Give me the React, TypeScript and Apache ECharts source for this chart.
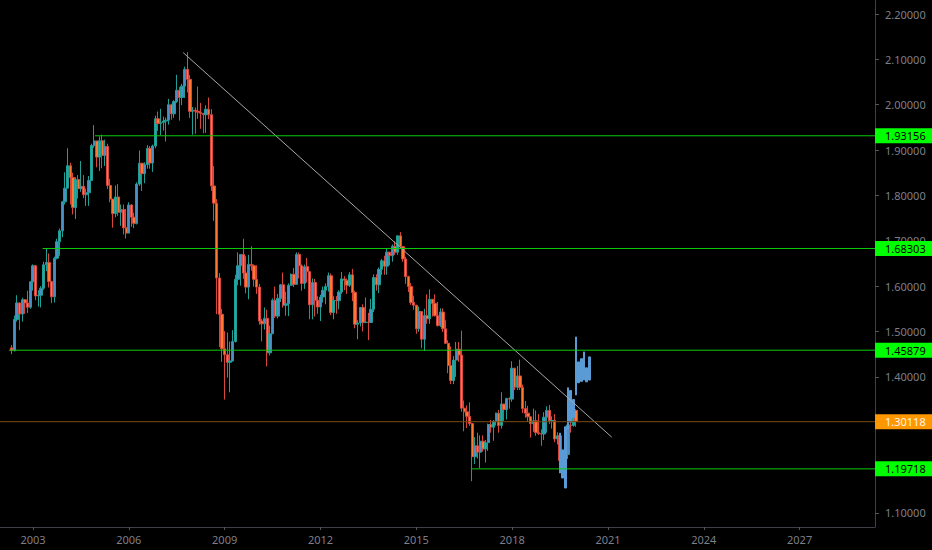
import React, { useEffect, useRef } from "react";
import * as echarts from "echarts";

// GBP/USD monthly candles: [open, close, low, high], starting May 2002
const candleStartYear = 2002;
const candleStartMonth = 4; // 0-based (May)
const candles: number[][] = [
  // 2002 (May-Dec)
  [1.4640, 1.4580, 1.4500, 1.4700], [1.4580, 1.5265, 1.4560, 1.5350], [1.5265, 1.5630, 1.5220, 1.5800],
  [1.5630, 1.5385, 1.5030, 1.5640], [1.5385, 1.5700, 1.5220, 1.5745], [1.5700, 1.5630, 1.5390, 1.5710],
  [1.5630, 1.5535, 1.5410, 1.5900], [1.5535, 1.6095, 1.5500, 1.6110],
  // 2003
  [1.6095, 1.6450, 1.5900, 1.6480], [1.6450, 1.5785, 1.5690, 1.6470], [1.5785, 1.5800, 1.5550, 1.5910],
  [1.5800, 1.5955, 1.5530, 1.6000], [1.5955, 1.6470, 1.5920, 1.6540], [1.6470, 1.6520, 1.6330, 1.6840],
  [1.6520, 1.6100, 1.5970, 1.6720], [1.6100, 1.5765, 1.5625, 1.6120], [1.5765, 1.6615, 1.5640, 1.6650],
  [1.6615, 1.6980, 1.6590, 1.7045], [1.6980, 1.7220, 1.6670, 1.7270], [1.7220, 1.7860, 1.7080, 1.7880],
  // 2004
  [1.7860, 1.8160, 1.7800, 1.8510], [1.8160, 1.8655, 1.8160, 1.9040], [1.8655, 1.8395, 1.7800, 1.8720],
  [1.8395, 1.7735, 1.7580, 1.8500], [1.7735, 1.8350, 1.7480, 1.8400], [1.8350, 1.8150, 1.7930, 1.8450],
  [1.8150, 1.8200, 1.8080, 1.8760], [1.8200, 1.8015, 1.7940, 1.8450], [1.8015, 1.8060, 1.7770, 1.8150],
  [1.8060, 1.8330, 1.7770, 1.8430], [1.8330, 1.9100, 1.8330, 1.9140], [1.9100, 1.9200, 1.9050, 1.9550],
  // 2005
  [1.9200, 1.8845, 1.8620, 1.9200], [1.8845, 1.9205, 1.8540, 1.9300], [1.9205, 1.8885, 1.8600, 1.9340],
  [1.8885, 1.9080, 1.8650, 1.9230], [1.9080, 1.8220, 1.8140, 1.9140], [1.8220, 1.7920, 1.7850, 1.8370],
  [1.7920, 1.7600, 1.7290, 1.7920], [1.7600, 1.7965, 1.7520, 1.8220], [1.7965, 1.7630, 1.7550, 1.8250],
  [1.7630, 1.7690, 1.7330, 1.7800], [1.7690, 1.7285, 1.7140, 1.7800], [1.7285, 1.7170, 1.7050, 1.7700],
  // 2006
  [1.7170, 1.7790, 1.7170, 1.7850], [1.7790, 1.7520, 1.7310, 1.7810], [1.7520, 1.7385, 1.7280, 1.7620],
  [1.7385, 1.8250, 1.7360, 1.8290], [1.8250, 1.8710, 1.8210, 1.8990], [1.8710, 1.8480, 1.8100, 1.8710],
  [1.8480, 1.8680, 1.8270, 1.8730], [1.8680, 1.9040, 1.8590, 1.9110], [1.9040, 1.8715, 1.8590, 1.9090],
  [1.8715, 1.9090, 1.8520, 1.9120], [1.9090, 1.9690, 1.9040, 1.9760], [1.9690, 1.9585, 1.9420, 1.9850],
  // 2007
  [1.9585, 1.9610, 1.9330, 1.9910], [1.9610, 1.9640, 1.9430, 1.9740], [1.9640, 1.9660, 1.9190, 1.9720],
  [1.9660, 2.0000, 1.9560, 2.0130], [2.0000, 1.9800, 1.9670, 2.0020], [1.9800, 2.0070, 1.9710, 2.0100],
  [2.0070, 2.0320, 2.0040, 2.0660], [2.0320, 2.0160, 1.9650, 2.0390], [2.0160, 2.0410, 1.9990, 2.0460],
  [2.0410, 2.0780, 2.0150, 2.0840], [2.0780, 2.0560, 2.0270, 2.1160], [2.0560, 1.9855, 1.9710, 2.0660],
  // 2008
  [1.9855, 1.9880, 1.9340, 1.9950], [1.9880, 1.9855, 1.9360, 1.9940], [1.9855, 1.9835, 1.9690, 2.0400],
  [1.9835, 1.9810, 1.9470, 2.0040], [1.9810, 1.9780, 1.9370, 1.9820], [1.9780, 1.9900, 1.9380, 1.9990],
  [1.9900, 1.9780, 1.9680, 2.0160], [1.9780, 1.8210, 1.8100, 1.9900], [1.8210, 1.7830, 1.7440, 1.8650],
  [1.7830, 1.6180, 1.5380, 1.7920], [1.6180, 1.5380, 1.4660, 1.6290], [1.5380, 1.4620, 1.4330, 1.5500],
  // 2009
  [1.4620, 1.4490, 1.3500, 1.5010], [1.4490, 1.4320, 1.3985, 1.4980], [1.4320, 1.4350, 1.3660, 1.4780],
  [1.4350, 1.4780, 1.4340, 1.5030], [1.4780, 1.6150, 1.4760, 1.6250], [1.6150, 1.6450, 1.6020, 1.6745],
  [1.6450, 1.6700, 1.6010, 1.6700], [1.6700, 1.6290, 1.6160, 1.7045], [1.6290, 1.5980, 1.5840, 1.6660],
  [1.5980, 1.6480, 1.5710, 1.6690], [1.6480, 1.6450, 1.6340, 1.6880], [1.6450, 1.6150, 1.5990, 1.6480],
  // 2010
  [1.6150, 1.5980, 1.5830, 1.6460], [1.5980, 1.5230, 1.5150, 1.6050], [1.5230, 1.5170, 1.4780, 1.5280],
  [1.5170, 1.5290, 1.5040, 1.5530], [1.5290, 1.4530, 1.4230, 1.5480], [1.4530, 1.4950, 1.4470, 1.5130],
  [1.4950, 1.5690, 1.4950, 1.5730], [1.5690, 1.5340, 1.5300, 1.5990], [1.5340, 1.5730, 1.5290, 1.5830],
  [1.5730, 1.6030, 1.5650, 1.6050], [1.6030, 1.5580, 1.5530, 1.6300], [1.5580, 1.5610, 1.5350, 1.5880],
  // 2011
  [1.5610, 1.6020, 1.5340, 1.6060], [1.6020, 1.6260, 1.6010, 1.6280], [1.6260, 1.6040, 1.5980, 1.6400],
  [1.6040, 1.6700, 1.6030, 1.6745], [1.6700, 1.6450, 1.6170, 1.6740], [1.6450, 1.6060, 1.5900, 1.6480],
  [1.6060, 1.6430, 1.5940, 1.6475], [1.6430, 1.6320, 1.6080, 1.6620], [1.6320, 1.5590, 1.5270, 1.6330],
  [1.5590, 1.6080, 1.5270, 1.6170], [1.6080, 1.5690, 1.5330, 1.6160], [1.5690, 1.5540, 1.5390, 1.5780],
  // 2012
  [1.5540, 1.5760, 1.5230, 1.5810], [1.5760, 1.5910, 1.5640, 1.5990], [1.5910, 1.5990, 1.5600, 1.6060],
  [1.5990, 1.6230, 1.5880, 1.6300], [1.6230, 1.5420, 1.5360, 1.6280], [1.5420, 1.5690, 1.5270, 1.5780],
  [1.5690, 1.5680, 1.5390, 1.5780], [1.5680, 1.5870, 1.5490, 1.5910], [1.5870, 1.6160, 1.5830, 1.6310],
  [1.6160, 1.6130, 1.5910, 1.6220], [1.6130, 1.6020, 1.5830, 1.6170], [1.6020, 1.6250, 1.5980, 1.6310],
  // 2013
  [1.6250, 1.5860, 1.5670, 1.6380], [1.5860, 1.5160, 1.5070, 1.5900], [1.5160, 1.5190, 1.4830, 1.5250],
  [1.5190, 1.5530, 1.5110, 1.5540], [1.5530, 1.5200, 1.5000, 1.5600], [1.5200, 1.5210, 1.5185, 1.5750],
  [1.5210, 1.5200, 1.4810, 1.5410], [1.5200, 1.5490, 1.5190, 1.5720], [1.5490, 1.6190, 1.5430, 1.6260],
  [1.6190, 1.6030, 1.5900, 1.6260], [1.6030, 1.6370, 1.5850, 1.6410], [1.6370, 1.6560, 1.6250, 1.6600],
  // 2014
  [1.6560, 1.6440, 1.6250, 1.6670], [1.6440, 1.6750, 1.6250, 1.6820], [1.6750, 1.6670, 1.6460, 1.6750],
  [1.6670, 1.6880, 1.6540, 1.6920], [1.6880, 1.6750, 1.6690, 1.6990], [1.6750, 1.7110, 1.6690, 1.7110],
  [1.7110, 1.6870, 1.6850, 1.7190], [1.6870, 1.6600, 1.6540, 1.6880], [1.6600, 1.6210, 1.6050, 1.6650],
  [1.6210, 1.5990, 1.5870, 1.6230], [1.5990, 1.5640, 1.5590, 1.6070], [1.5640, 1.5580, 1.5480, 1.5790],
  // 2015
  [1.5580, 1.5060, 1.4950, 1.5590], [1.5060, 1.5440, 1.4990, 1.5550], [1.5440, 1.4830, 1.4630, 1.5440],
  [1.4830, 1.5350, 1.4570, 1.5500], [1.5350, 1.5280, 1.5170, 1.5820], [1.5280, 1.5710, 1.5170, 1.5930],
  [1.5710, 1.5620, 1.5330, 1.5710], [1.5620, 1.5350, 1.5330, 1.5820], [1.5350, 1.5130, 1.5110, 1.5650],
  [1.5130, 1.5430, 1.5100, 1.5510], [1.5430, 1.5060, 1.4990, 1.5510], [1.5060, 1.4740, 1.4730, 1.5250],
  // 2016
  [1.4740, 1.4250, 1.4080, 1.4810], [1.4250, 1.3920, 1.3840, 1.4670], [1.3920, 1.4370, 1.3840, 1.4460],
  [1.4370, 1.4610, 1.4000, 1.4770], [1.4610, 1.4480, 1.4330, 1.4770], [1.4480, 1.3310, 1.3230, 1.5020],
  [1.3310, 1.3230, 1.2800, 1.3480], [1.3230, 1.3130, 1.2870, 1.3370], [1.3130, 1.2970, 1.2920, 1.3440],
  [1.2970, 1.2240, 1.1700, 1.2990], [1.2240, 1.2480, 1.2080, 1.2670], [1.2480, 1.2340, 1.2200, 1.2770],
  // 2017
  [1.2340, 1.2580, 1.1990, 1.2710], [1.2580, 1.2410, 1.2350, 1.2710], [1.2410, 1.2550, 1.2110, 1.2610],
  [1.2550, 1.2950, 1.2370, 1.2970], [1.2950, 1.2890, 1.2770, 1.3050], [1.2890, 1.3020, 1.2590, 1.3050],
  [1.3020, 1.3200, 1.2930, 1.3210], [1.3200, 1.2930, 1.2770, 1.3270], [1.2930, 1.3400, 1.2860, 1.3660],
  [1.3400, 1.3280, 1.3030, 1.3400], [1.3280, 1.3520, 1.3060, 1.3540], [1.3520, 1.3510, 1.3300, 1.3550],
  // 2018
  [1.3510, 1.4190, 1.3450, 1.4345], [1.4190, 1.3770, 1.3710, 1.4190], [1.3770, 1.4020, 1.3710, 1.4240],
  [1.4020, 1.3770, 1.3710, 1.4380], [1.3770, 1.3300, 1.3200, 1.3830], [1.3300, 1.3200, 1.3100, 1.3470],
  [1.3200, 1.3120, 1.3010, 1.3360], [1.3120, 1.2970, 1.2660, 1.3120], [1.2970, 1.3030, 1.2790, 1.3300],
  [1.3030, 1.2770, 1.2700, 1.3260], [1.2770, 1.2750, 1.2720, 1.3180], [1.2750, 1.2740, 1.2480, 1.2840],
  // 2019
  [1.2740, 1.3110, 1.2610, 1.3220], [1.3110, 1.3260, 1.2770, 1.3350], [1.3260, 1.3030, 1.2960, 1.3380],
  [1.3030, 1.3040, 1.2860, 1.3130], [1.3040, 1.2630, 1.2560, 1.3180], [1.2630, 1.2700, 1.2510, 1.2780],
  [1.2700, 1.2160, 1.2120, 1.2730], [1.2160, 1.2150, 1.2010, 1.2250], [1.2150, 1.2290, 1.1960, 1.2380],
  [1.2290, 1.2940, 1.2190, 1.3010], [1.2940, 1.2930, 1.2770, 1.3010], [1.2930, 1.3260, 1.2900, 1.3510],
  // 2020 (Jan)
  [1.3260, 1.3020, 1.2900, 1.3290],
];

// Projected "bars pattern" (blue), [low, high], starting Jul 2019
const projStartYear = 2019;
const projStartMonth = 6;
const projection: number[][] = [
  [1.188, 1.276], [1.177, 1.239], [1.155, 1.290], [1.285, 1.376], [1.300, 1.370], [1.310, 1.350],
  [1.360, 1.488], [1.387, 1.433], [1.390, 1.440], [1.393, 1.455], [1.389, 1.420], [1.393, 1.444],
];

// Horizontal levels: price, start (fractional year), kind
const levelPrices = [1.93156, 1.68303, 1.45879, 1.30118, 1.19718];
const levelStarts = [2004.94, 2003.3, 2002.25, 2001.967, 2016.73];
const levelKinds = ["green", "green", "green", "orange", "green"];

// Trend line (fractional year, price)
const trendLine = [
  [2007.7, 2.115],
  [2021.12, 1.267],
];

const xTicks = [2003, 2006, 2009, 2012, 2015, 2018, 2021, 2024, 2027];
const yTicks = [1.1, 1.2, 1.3, 1.4, 1.5, 1.6, 1.7, 1.8, 1.9, 2.0, 2.1, 2.2];

const X_MIN = 2001.967;
const X_MAX = 2029.36;
const Y_MIN = 1.069;
const Y_MAX = 2.2309;

const FONT = "'Noto Sans', 'DejaVu Sans', sans-serif";

export default function App() {
  const ref = useRef<HTMLDivElement>(null);

  useEffect(() => {
    if (!ref.current) return;
    const chart = echarts.init(ref.current, null, { renderer: "svg" });

    const candleData = candles.map((c, i) => [
      candleStartYear + (candleStartMonth + i) / 12,
      c[0],
      c[1],
      c[2],
      c[3],
    ]);
    const projData = projection.map((p, i) => [
      projStartYear + (projStartMonth + i) / 12,
      p[0],
      p[1],
      p[0],
      p[1],
    ]);

    const levelSeries = levelPrices.map((v, i) => {
      const green = levelKinds[i] === "green";
      const lineColor = green ? "#0bcc0b" : "#7a4c12";
      return {
        type: "line",
        name: "level" + i,
        data: [
          [levelStarts[i], v],
          [X_MAX, v],
        ],
        symbol: "none",
        showSymbol: false,
        silent: true,
        clip: false,
        z: 5,
        color: lineColor,
        lineStyle: { color: lineColor, width: 1, type: "solid" },
        emphasis: { disabled: true },
        endLabel: {
          show: true,
          distance: 0,
          formatter: () => v.toFixed(5),
          backgroundColor: green ? "#00ff00" : "#ff9800",
          color: green ? "#000000" : "#fff4e6",
          fontSize: 11,
          fontFamily: FONT,
          lineHeight: 12,
          padding: [2, 12, 1, 10],
        },
      };
    });

    chart.setOption({
      animation: false,
      backgroundColor: "#000000",
      grid: {
        left: 0,
        right: 57,
        top: 0,
        bottom: 23,
        containLabel: false,
        outerBoundsMode: "none",
      },
      xAxis: {
        type: "value",
        min: X_MIN,
        max: X_MAX,
        splitLine: { show: false },
        axisLine: { show: true, lineStyle: { color: "#3f3f47", width: 1 } },
        axisTick: {
          show: true,
          customValues: xTicks,
          length: 3,
          lineStyle: { color: "#55555e" },
        },
        axisLabel: {
          customValues: xTicks,
          formatter: (v: number) => String(Math.round(v)),
          color: "#7f7f88",
          fontSize: 11,
          fontFamily: FONT,
          margin: 7,
        },
      },
      yAxis: {
        type: "value",
        position: "right",
        min: Y_MIN,
        max: Y_MAX,
        scale: true,
        splitLine: { show: false },
        axisLine: { show: true, lineStyle: { color: "#3f3f47", width: 1 } },
        axisTick: {
          show: true,
          customValues: yTicks,
          length: 4,
          lineStyle: { color: "#55555e" },
        },
        axisLabel: {
          customValues: yTicks,
          formatter: (v: number) => v.toFixed(5),
          color: "#7f7f88",
          fontSize: 11,
          fontFamily: FONT,
          margin: 10,
        },
      },
      series: [
        {
          type: "candlestick",
          name: "GBPUSD",
          dimensions: ["t", "open", "close", "lowest", "highest"],
          encode: { x: "t", y: ["open", "close", "lowest", "highest"] },
          data: candleData,
          barWidth: 2.8,
          silent: true,
          itemStyle: {
            color: "#4a8fc6",
            color0: "#ff7a30",
            borderColor: "#1f9e96",
            borderColor0: "#d9473c",
            borderWidth: 1,
          },
        },
        {
          type: "candlestick",
          name: "projection",
          dimensions: ["t", "open", "close", "lowest", "highest"],
          encode: { x: "t", y: ["open", "close", "lowest", "highest"] },
          data: projData,
          barWidth: 2.4,
          silent: true,
          z: 3,
          itemStyle: {
            color: "#5b9bd5",
            color0: "#5b9bd5",
            borderColor: "#5b9bd5",
            borderColor0: "#5b9bd5",
            borderWidth: 1,
          },
        },
        {
          type: "line",
          name: "trend",
          data: trendLine,
          showSymbol: false,
          symbol: "none",
          silent: true,
          z: 4,
          lineStyle: { color: "#a8a8a8", width: 1 },
        },
        ...levelSeries,
      ],
    });

    return () => chart.dispose();
  }, []);

  return (
    <div
      ref={ref}
      style={{
        position: "absolute",
        left: 0,
        top: 0,
        width: 932,
        height: 550,
        background: "#000000",
      }}
    />
  );
}
